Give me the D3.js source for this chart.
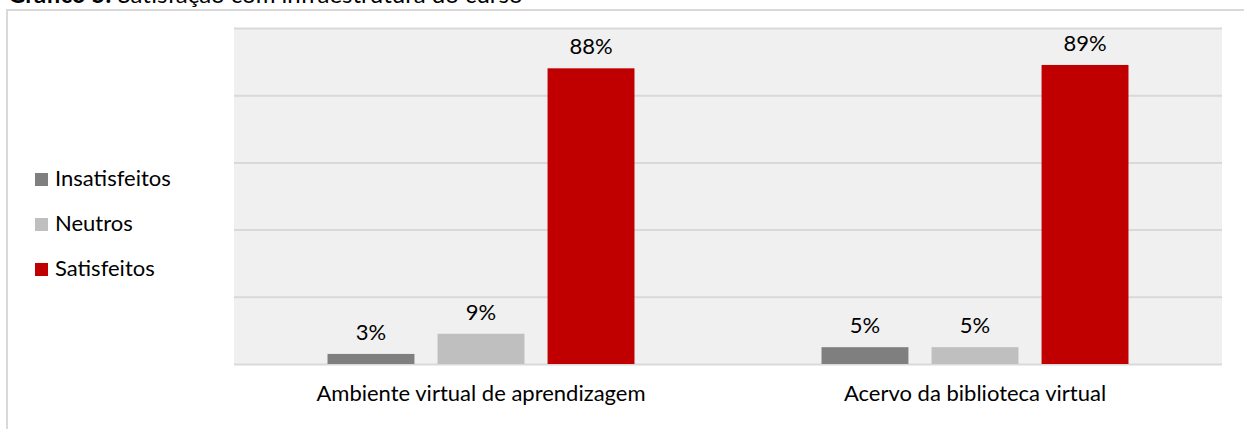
<!DOCTYPE html>
<html>
<head>
<meta charset="utf-8">
<script src="https://cdn.jsdelivr.net/npm/d3@7"></script>
<style>
  body { margin: 0; background: #fff; }
  text { font-family: Lato, "Open Sans", sans-serif; fill: #000; }
</style>
</head>
<body>
<div id="chart"></div>
<script>
// data
var categories = ["Ambiente virtual de aprendizagem", "Acervo da biblioteca virtual"];
var seriesNames = ["Insatisfeitos", "Neutros", "Satisfeitos"];
var insatisfeitos = [3, 5];
var neutros = [9, 5];
var satisfeitos = [88, 89];
var yTicks = [0, 20, 40, 60, 80, 100];
var colors = ["#7f7f7f", "#bfbfbf", "#c00000"];

var seriesValues = [insatisfeitos, neutros, satisfeitos];
var data = categories.map(function(c, i) {
  return { cat: c, vals: seriesNames.map(function(s, j) { return { name: s, v: seriesValues[j][i], color: colors[j] }; }) };
});

var w = 1244, h = 429;
var fs = "22px";
var svg = d3.select("#chart").append("svg")
  .attr("width", w)
  .attr("height", h);

// title, cut off at the top like in the original
var title = svg.append("text")
  .attr("x", 8)
  .attr("y", 3)
  .attr("font-size", "24px");
title.append("tspan").attr("font-weight", "bold").text("Gráfico 5:");
title.append("tspan").text(" Satisfação com infraestrutura do curso");

// outer frame
svg.append("rect")
  .attr("x", 7)
  .attr("y", 10)
  .attr("width", w + 10)
  .attr("height", h + 10)
  .style("fill", "none")
  .style("stroke", "#d9d9d9")
  .style("stroke-width", 2);

var plot = { left: 234, right: 1222, top: 28, bottom: 364 };

var x0 = d3.scaleBand()
  .domain(categories)
  .range([plot.left, plot.right]);

var x1 = d3.scaleBand()
  .domain(seriesNames)
  .range([0, x0.bandwidth()])
  .paddingInner(0.21)
  .paddingOuter(0.85);

var y = d3.scaleLinear()
  .domain([0, 100])
  .range([plot.bottom, plot.top]);

svg.append("rect")
  .attr("x", plot.left)
  .attr("y", plot.top)
  .attr("width", plot.right - plot.left)
  .attr("height", plot.bottom - plot.top)
  .style("fill", "#f0f0f0");

var yAxis = d3.axisLeft(y)
  .tickValues(yTicks)
  .tickSize(-(plot.right - plot.left))
  .tickFormat("");

var gy = svg.append("g")
  .attr("transform", "translate(" + plot.left + ",0)")
  .call(yAxis);
gy.select(".domain").remove();
gy.selectAll(".tick line").style("stroke", "#d9d9d9").style("stroke-width", 2);

var groups = svg.selectAll(".grp")
  .data(data)
  .enter().append("g")
  .attr("class", "grp")
  .attr("transform", function(d) { return "translate(" + x0(d.cat) + ",0)"; });

groups.selectAll("rect")
  .data(function(d) { return d.vals; })
  .enter().append("rect")
  .attr("x", function(d) { return x1(d.name); })
  .attr("y", function(d) { return y(d.v); })
  .attr("width", x1.bandwidth())
  .attr("height", function(d) { return y(0) - y(d.v); })
  .style("fill", function(d) { return d.color; });

groups.selectAll(".lbl")
  .data(function(d) { return d.vals; })
  .enter().append("text")
  .attr("class", "lbl")
  .attr("x", function(d) { return x1(d.name) + x1.bandwidth() / 2; })
  .attr("y", function(d) { return y(d.v) - 14; })
  .attr("text-anchor", "middle")
  .attr("font-size", fs)
  .text(function(d) { return d.v + "%"; });

var xAxis = d3.axisBottom(x0).tickSize(0).tickPadding(20);
var gx = svg.append("g")
  .attr("transform", "translate(0," + plot.bottom + ")")
  .call(xAxis);
gx.select(".domain").remove();
gx.selectAll("text")
  .attr("dy", null)
  .attr("y", 37)
  .style("font-family", "Lato, 'Open Sans', sans-serif")
  .style("font-size", fs)
  .style("fill", "#000");

// legend
var legend = svg.selectAll(".leg")
  .data(seriesNames)
  .enter().append("g")
  .attr("class", "leg")
  .attr("transform", function(d, i) { return "translate(35," + (173 + i * 45) + ")"; });

legend.append("rect")
  .attr("width", 13)
  .attr("height", 13)
  .style("fill", function(d, i) { return colors[i]; });

legend.append("text")
  .attr("x", 20)
  .attr("y", 13)
  .attr("font-size", fs)
  .text(function(d) { return d; });
</script>
</body>
</html>
